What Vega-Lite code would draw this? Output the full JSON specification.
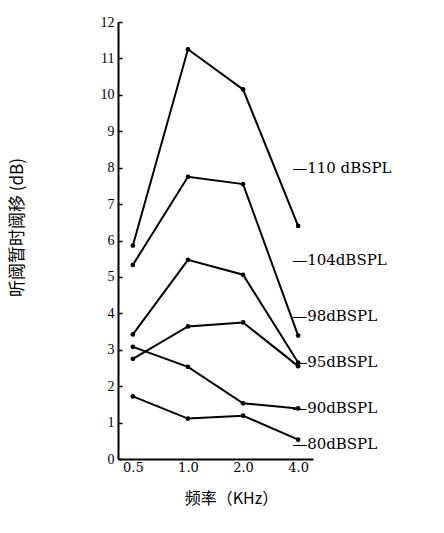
{
  "$schema": "https://vega.github.io/schema/vega-lite/v6.json",
  "width": 195,
  "height": 437,
  "autosize": {"type": "none"},
  "padding": {"left": 118, "top": 22, "right": 131, "bottom": 74},
  "background": "white",
  "config": {"view": {"stroke": null}, "font": "Liberation Serif"},
  "datasets": {
    "series": [
      {"level": "110", "freq": "0.5", "shift": 5.86},
      {"level": "110", "freq": "1.0", "shift": 11.25},
      {"level": "110", "freq": "2.0", "shift": 10.15},
      {"level": "110", "freq": "4.0", "shift": 6.4},
      {"level": "104", "freq": "0.5", "shift": 5.33},
      {"level": "104", "freq": "1.0", "shift": 7.75},
      {"level": "104", "freq": "2.0", "shift": 7.55},
      {"level": "104", "freq": "4.0", "shift": 3.39},
      {"level": "98", "freq": "0.5", "shift": 3.42},
      {"level": "98", "freq": "1.0", "shift": 5.47},
      {"level": "98", "freq": "2.0", "shift": 5.06},
      {"level": "98", "freq": "4.0", "shift": 2.65},
      {"level": "95", "freq": "0.5", "shift": 2.75},
      {"level": "95", "freq": "1.0", "shift": 3.64},
      {"level": "95", "freq": "2.0", "shift": 3.75},
      {"level": "95", "freq": "4.0", "shift": 2.55},
      {"level": "90", "freq": "0.5", "shift": 3.08},
      {"level": "90", "freq": "1.0", "shift": 2.53},
      {"level": "90", "freq": "2.0", "shift": 1.53},
      {"level": "90", "freq": "4.0", "shift": 1.39},
      {"level": "80", "freq": "0.5", "shift": 1.72},
      {"level": "80", "freq": "1.0", "shift": 1.11},
      {"level": "80", "freq": "2.0", "shift": 1.19},
      {"level": "80", "freq": "4.0", "shift": 0.53}
    ],
    "labels": [
      {"freq": "4.0", "pos": 8.0, "label": "—110  dBSPL"},
      {"freq": "4.0", "pos": 5.47, "label": "—104dBSPL"},
      {"freq": "4.0", "pos": 3.94, "label": "—98dBSPL"},
      {"freq": "4.0", "pos": 2.67, "label": "—95dBSPL"},
      {"freq": "4.0", "pos": 1.39, "label": "—90dBSPL"},
      {"freq": "4.0", "pos": 0.42, "label": "—80dBSPL"}
    ]
  },
  "encoding": {
    "x": {
      "field": "freq",
      "type": "ordinal",
      "sort": ["0.5", "1.0", "2.0", "4.0"],
      "scale": {"type": "point", "padding": 0.27},
      "axis": {
        "title": "频率（KHz）",
        "titleFont": "Noto Sans CJK SC",
        "titleFontSize": 16,
        "titleFontWeight": "normal",
        "titleColor": "black",
        "titleX": 113,
        "titlePadding": 16,
        "labelAngle": 0,
        "labelFont": "DejaVu Serif",
        "labelFontSize": 13,
        "labelColor": "black",
        "labelPadding": 2,
        "domainColor": "black",
        "domainWidth": 2,
        "ticks": false
      }
    },
    "y": {
      "field": "shift",
      "type": "quantitative",
      "scale": {"domain": [0, 12], "nice": false},
      "axis": {
        "title": "听阈暂时阈移 (dB)",
        "titleFont": "Noto Sans CJK SC",
        "titleFontSize": 17,
        "titleFontWeight": "normal",
        "titleColor": "black",
        "titleX": -92,
        "titleY": 205,
        "values": [0, 1, 2, 3, 4, 5, 6, 7, 8, 9, 10, 11, 12],
        "labelFontSize": 14,
        "labelColor": "black",
        "labelPadding": 8,
        "tickSize": -4,
        "tickColor": "black",
        "tickWidth": 1.5,
        "domainColor": "black",
        "domainWidth": 2,
        "grid": false
      }
    }
  },
  "layer": [
    {
      "data": {"name": "series"},
      "mark": {"type": "line", "color": "black", "strokeWidth": 2},
      "encoding": {"detail": {"field": "level"}}
    },
    {
      "data": {"name": "series"},
      "mark": {"type": "point", "filled": true, "color": "black", "size": 22, "opacity": 1}
    },
    {
      "data": {"name": "labels"},
      "mark": {"type": "text", "align": "left", "baseline": "middle", "dx": -6, "fontSize": 15, "font": "DejaVu Serif", "color": "black"},
      "encoding": {
        "y": {"field": "pos", "type": "quantitative"},
        "text": {"field": "label"}
      }
    }
  ]
}
